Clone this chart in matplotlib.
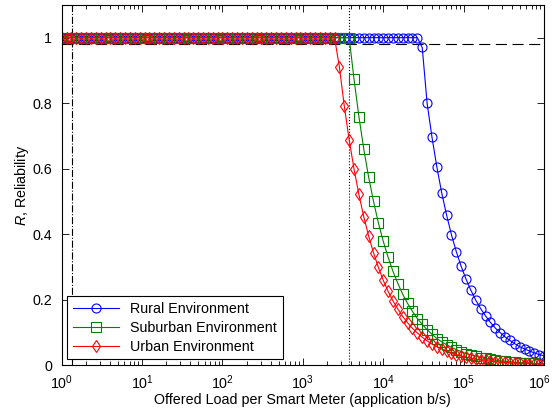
import numpy as np
import matplotlib.pyplot as plt
from matplotlib.ticker import FixedLocator, LogFormatterMathtext
from matplotlib.transforms import ScaledTranslation

plt.rcParams['font.family'] = ['Liberation Sans', 'DejaVu Sans']
plt.rcParams['mathtext.fontset'] = 'custom'
plt.rcParams['mathtext.rm'] = 'Liberation Sans'
plt.rcParams['mathtext.it'] = 'Liberation Sans:italic'

# offered load grid, 100 points spread evenly over 10^0 .. 10^6 b/s
load = np.logspace(0, 6, 100)

rural = [1.0] * 74 + [0.97,
    0.800, 0.696, 0.605, 0.526, 0.458, 0.398, 0.346, 0.301, 0.262, 0.228,
    0.198, 0.172, 0.150, 0.130, 0.113, 0.099, 0.086, 0.075, 0.065, 0.056,
    0.049, 0.043, 0.037, 0.032, 0.028]

suburban = [1.0] * 60 + [
    0.873, 0.759, 0.660, 0.574, 0.500, 0.434, 0.378, 0.329, 0.286, 0.249,
    0.216, 0.188, 0.164, 0.142, 0.124, 0.108, 0.094, 0.081, 0.071, 0.062,
    0.054, 0.047, 0.041, 0.035, 0.031, 0.027, 0.023, 0.020, 0.018, 0.015,
    0.013, 0.012, 0.010, 0.0087, 0.0076, 0.0066, 0.0058, 0.005, 0.0044, 0.0038]

urban = [1.0] * 57 + [
    0.910, 0.791, 0.688, 0.599, 0.521, 0.453, 0.394, 0.343, 0.298, 0.259,
    0.225, 0.196, 0.171, 0.148, 0.129, 0.112, 0.098, 0.085, 0.074, 0.064,
    0.056, 0.049, 0.042, 0.037, 0.032, 0.028, 0.024, 0.021, 0.018, 0.016,
    0.014, 0.012, 0.010, 0.009, 0.008, 0.007, 0.006, 0.005, 0.0045, 0.004,
    0.0035, 0.003, 0.0025]

x_ticks = [1, 10, 100, 1e3, 1e4, 1e5, 1e6]
y_ticks = [0, 0.2, 0.4, 0.6, 0.8, 1]
y_ticklabels = ['0', '0.2', '0.4', '0.6', '0.8', '1']

r_target = 0.98
x_low = 1.33
x_high = 3800

fs = 10.3

fig = plt.figure(figsize=(5.54, 4.12), dpi=100)
ax = fig.add_axes([0.1114, 0.114, 0.8706, 0.874])

ax.plot(load, rural, '-o', color='b', lw=0.8, ms=6.5, mfc='none', mew=0.8,
        label='Rural Environment')
ax.plot(load, suburban, '-s', color=(0, 0.5, 0), lw=0.8, ms=6.5, mfc='none',
        mew=0.8, label='Suburban Environment')
ax.plot(load, urban, '-d', color='r', lw=0.8, ms=6.5, mfc='none', mew=0.8,
        label='Urban Environment')

ax.axhline(r_target, color='k', ls=(0, (10, 5)), lw=0.8, zorder=1)
ax.axvline(x_low, color='k', ls='-.', lw=0.8, zorder=1)
ax.axvline(x_high, color='k', ls=':', lw=0.8, zorder=1)

ax.set_xscale('log')
ax.set_xlim(1, 1e6)
ax.set_ylim(0, 1.1)
ax.xaxis.set_major_locator(FixedLocator(x_ticks))
ax.xaxis.set_major_formatter(LogFormatterMathtext())
minor = [m * 10 ** e for e in range(6) for m in range(2, 10)]
ax.xaxis.set_minor_locator(FixedLocator(minor))
ax.yaxis.set_major_locator(FixedLocator(y_ticks))
ax.set_yticklabels(y_ticklabels)

ax.tick_params(which='both', direction='in', top=True, right=True,
               labelsize=fs, width=0.6)
ax.tick_params(which='major', length=5)
ax.tick_params(which='minor', length=3)
ax.tick_params(axis='x', pad=6)
ax.tick_params(axis='y', pad=7)
for s in ax.spines.values():
    s.set_linewidth(0.8)

# keep the last decade label inside the figure edge
last = ax.get_xticklabels()[-1]
last.set_transform(last.get_transform() +
                   ScaledTranslation(-3 / 72, 0, fig.dpi_scale_trans))

ax.set_xlabel('Offered Load per Smart Meter (application b/s)', fontsize=fs,
              labelpad=1)
ax.set_ylabel('$R$, Reliability', fontsize=fs, labelpad=1)

leg = ax.legend(loc='lower left', fontsize=fs, fancybox=False,
                edgecolor='k', framealpha=1, handlelength=3.2,
                borderaxespad=0.4, labelspacing=0.35)
leg.get_frame().set_linewidth(0.8)

fig.savefig('out.png', dpi=100)
